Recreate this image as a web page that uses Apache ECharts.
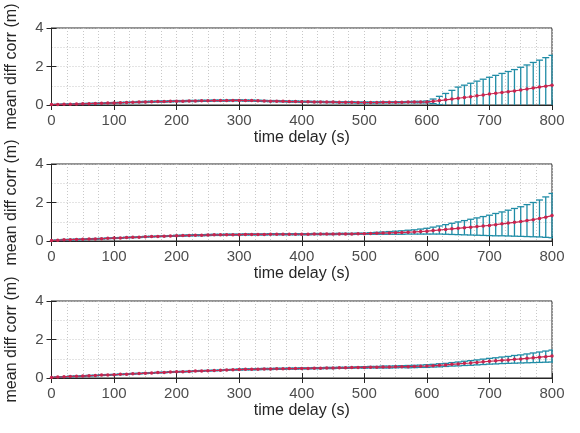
<!DOCTYPE html>
<html><head><meta charset="utf-8">
<script src="https://cdn.jsdelivr.net/npm/echarts@6/dist/echarts.min.js"></script>
<style>html,body{margin:0;padding:0;background:#fff}#c{width:580px;height:433px}</style>
</head><body><div id="c"></div>
<script>
const timeDelay = [0,10,20,30,40,50,60,70,80,90,100,110,120,130,140,150,160,170,180,190,200,210,220,230,240,250,260,270,280,290,300,310,320,330,340,350,360,370,380,390,400,410,420,430,440,450,460,470,480,490,500,510,520,530,540,550,560,570,580,590,600,610,620,630,640,650,660,670,680,690,700,710,720,730,740,750,760,770,780,790,800];
const xTicks = [0,100,200,300,400,500,600,700,800];
const yTicks = [0,2,4];

const mean1 = [0.02,0.03,0.04,0.04,0.05,0.06,0.07,0.08,0.09,0.10,
0.11,0.12,0.13,0.14,0.15,0.16,0.17,0.18,0.18,0.19,
0.20,0.20,0.21,0.21,0.22,0.22,0.23,0.23,0.23,0.24,
0.24,0.23,0.23,0.22,0.21,0.20,0.20,0.19,0.18,0.18,
0.17,0.17,0.16,0.16,0.15,0.15,0.14,0.14,0.14,0.13,
0.13,0.13,0.13,0.14,0.14,0.14,0.14,0.15,0.15,0.15,
0.16,0.19,0.23,0.27,0.31,0.35,0.39,0.43,0.48,0.52,
0.57,0.61,0.65,0.69,0.73,0.78,0.83,0.88,0.93,0.98,
1.03];
const err1 = [0.01,0.01,0.01,0.02,0.02,0.02,0.02,0.02,0.02,0.02,
0.02,0.02,0.02,0.02,0.03,0.03,0.03,0.03,0.03,0.03,
0.03,0.03,0.03,0.03,0.03,0.03,0.03,0.03,0.03,0.03,
0.03,0.03,0.03,0.03,0.03,0.03,0.03,0.03,0.03,0.03,
0.03,0.03,0.03,0.03,0.03,0.03,0.03,0.03,0.03,0.03,
0.03,0.03,0.03,0.03,0.03,0.03,0.03,0.03,0.04,0.04,
0.05,0.12,0.22,0.33,0.45,0.58,0.64,0.70,0.76,0.82,
0.87,0.93,0.99,1.05,1.11,1.18,1.25,1.33,1.40,1.48,
1.55];
const mean2 = [0.03,0.04,0.06,0.07,0.08,0.09,0.10,0.11,0.12,0.14,
0.15,0.16,0.18,0.19,0.20,0.22,0.23,0.24,0.25,0.26,
0.27,0.28,0.29,0.30,0.30,0.31,0.32,0.32,0.33,0.33,
0.33,0.34,0.34,0.34,0.34,0.35,0.35,0.35,0.35,0.35,
0.35,0.35,0.36,0.36,0.36,0.36,0.37,0.37,0.37,0.38,
0.38,0.39,0.40,0.41,0.42,0.43,0.44,0.46,0.47,0.49,
0.51,0.54,0.57,0.60,0.63,0.66,0.69,0.72,0.75,0.78,
0.81,0.85,0.89,0.93,0.97,1.01,1.06,1.11,1.17,1.24,
1.32];
const err2 = [0.01,0.01,0.02,0.02,0.02,0.02,0.02,0.02,0.02,0.02,
0.02,0.02,0.02,0.02,0.02,0.02,0.02,0.02,0.02,0.02,
0.03,0.03,0.03,0.03,0.03,0.03,0.03,0.03,0.03,0.03,
0.03,0.03,0.03,0.03,0.03,0.03,0.03,0.03,0.03,0.03,
0.03,0.03,0.03,0.03,0.03,0.03,0.03,0.03,0.03,0.03,
0.03,0.04,0.05,0.06,0.07,0.08,0.09,0.10,0.11,0.13,
0.15,0.18,0.21,0.25,0.29,0.33,0.37,0.41,0.45,0.49,
0.53,0.58,0.62,0.67,0.72,0.77,0.83,0.89,0.96,1.05,
1.15];
const mean3 = [0.03,0.05,0.06,0.08,0.09,0.10,0.12,0.13,0.15,0.16,
0.17,0.19,0.20,0.22,0.23,0.25,0.26,0.28,0.29,0.31,
0.32,0.33,0.34,0.36,0.37,0.38,0.39,0.40,0.42,0.43,
0.44,0.45,0.45,0.46,0.47,0.47,0.48,0.48,0.49,0.49,
0.50,0.50,0.51,0.51,0.52,0.52,0.53,0.53,0.54,0.55,
0.55,0.56,0.56,0.57,0.57,0.58,0.59,0.59,0.60,0.61,
0.62,0.64,0.66,0.68,0.71,0.73,0.76,0.78,0.81,0.84,
0.87,0.89,0.92,0.94,0.97,0.99,1.02,1.05,1.08,1.11,
1.14];
const err3 = [0.01,0.01,0.01,0.02,0.02,0.02,0.02,0.02,0.02,0.02,
0.02,0.02,0.02,0.02,0.02,0.02,0.02,0.02,0.02,0.02,
0.02,0.02,0.02,0.02,0.02,0.02,0.02,0.02,0.02,0.02,
0.03,0.03,0.03,0.03,0.03,0.03,0.03,0.03,0.03,0.03,
0.03,0.03,0.03,0.03,0.03,0.03,0.03,0.03,0.03,0.03,
0.04,0.04,0.04,0.05,0.05,0.05,0.05,0.06,0.06,0.06,
0.07,0.07,0.08,0.08,0.09,0.10,0.11,0.12,0.13,0.14,
0.15,0.16,0.17,0.18,0.20,0.21,0.23,0.25,0.27,0.29,
0.31];

const xName = 'time delay (s)';
const yName = 'mean diff corr (m)';
const panels = [[mean1, err1], [mean2, err2], [mean3, err3]];

const FONT = 'Liberation Sans, Arial, Helvetica, sans-serif';
const tops = [28, 164, 301];
const h = 77;
const grids = tops.map(t => ({left: 51.5, right: 28, top: t, height: h, show: true,
  outerBoundsMode: 'none', containLabel: false,
  borderColor: '#262626', borderWidth: 1, backgroundColor: 'transparent'}));
const gridDot = {show: true, lineStyle: {color: '#c8c8c8', type: [1, 2], width: 1}};
const xAxes = [], yAxes = [], series = [];
const xMin = xTicks[0], xMax = xTicks[xTicks.length - 1];
const yMin = yTicks[0], yMax = yTicks[yTicks.length - 1];
panels.forEach((p, i) => {
  xAxes.push({
    gridIndex: i, type: 'value', min: xMin, max: xMax, interval: 100,
    name: xName, nameLocation: 'middle', nameGap: 25,
    nameTextStyle: {fontFamily: FONT, fontSize: 16, color: '#262626'},
    axisLine: {show: true, onZero: false, lineStyle: {color: '#262626', width: 1}},
    axisTick: {show: true, inside: true, length: 5, lineStyle: {color: '#262626'}},
    axisLabel: {fontFamily: FONT, fontSize: 15, color: '#4d4d4d', margin: 8},
    splitLine: gridDot,
    minorTick: {show: false, splitNumber: 4},
    minorSplitLine: gridDot
  });
  yAxes.push({
    gridIndex: i, type: 'value', min: yMin, max: yMax, interval: 2,
    name: yName, nameLocation: 'middle', nameGap: 32,
    nameTextStyle: {fontFamily: FONT, fontSize: 16, color: '#262626'},
    axisLine: {show: true, onZero: false, lineStyle: {color: '#262626', width: 1}},
    axisTick: {show: true, inside: true, length: 5, lineStyle: {color: '#262626'}},
    axisLabel: {fontFamily: FONT, fontSize: 15, color: '#4d4d4d', margin: 8},
    splitLine: gridDot,
    minorTick: {show: false, splitNumber: 2},
    minorSplitLine: gridDot
  });
});
panels.forEach((p, i) => {
  xAxes.push({
    gridIndex: i, type: 'value', min: xMin, max: xMax, interval: 100, position: 'top',
    axisLine: {show: false},
    axisTick: {show: true, inside: true, length: 5, lineStyle: {color: '#262626'}},
    axisLabel: {show: false}, splitLine: {show: false}
  });
  yAxes.push({
    gridIndex: i, type: 'value', min: yMin, max: yMax, interval: 2, position: 'right',
    axisLine: {show: false},
    axisTick: {show: true, inside: true, length: 5, lineStyle: {color: '#262626'}},
    axisLabel: {show: false}, splitLine: {show: false}
  });
});
panels.forEach((p, i) => {
  const [m, e] = p;
  const ebData = timeDelay.map((t, k) => [t, m[k], e[k]]);
  series.push({
    type: 'custom', xAxisIndex: i, yAxisIndex: i, clip: true, z: 2,
    data: ebData, silent: true,
    renderItem: function (params, api) {
      const x = api.value(0), mv = api.value(1), ev = api.value(2);
      const top = api.coord([x, mv + ev]);
      const bot = api.coord([x, mv - ev]);
      const hw = 3.5;
      const st = {stroke: '#1f8ca6', lineWidth: 1.3};
      return {type: 'group', children: [
        {type: 'line', shape: {x1: top[0], y1: top[1], x2: bot[0], y2: bot[1]}, style: st},
        {type: 'line', shape: {x1: top[0] - hw, y1: top[1], x2: top[0] + hw, y2: top[1]}, style: st},
        {type: 'line', shape: {x1: bot[0] - hw, y1: bot[1], x2: bot[0] + hw, y2: bot[1]}, style: st}
      ]};
    }
  });
  series.push({
    type: 'line', xAxisIndex: i, yAxisIndex: i, z: 3,
    data: timeDelay.map((t, k) => [t, m[k]]),
    symbol: 'circle', symbolSize: 3.5, showSymbol: true,
    lineStyle: {color: '#c8254f', width: 1.2},
    itemStyle: {color: '#c8254f'},
    animation: false
  });
});
const chart = echarts.init(document.getElementById('c'), null, {renderer: 'canvas'});
chart.setOption({
  animation: false,
  backgroundColor: '#ffffff',
  grid: grids, xAxis: xAxes, yAxis: yAxes, series: series
});
</script></body></html>
